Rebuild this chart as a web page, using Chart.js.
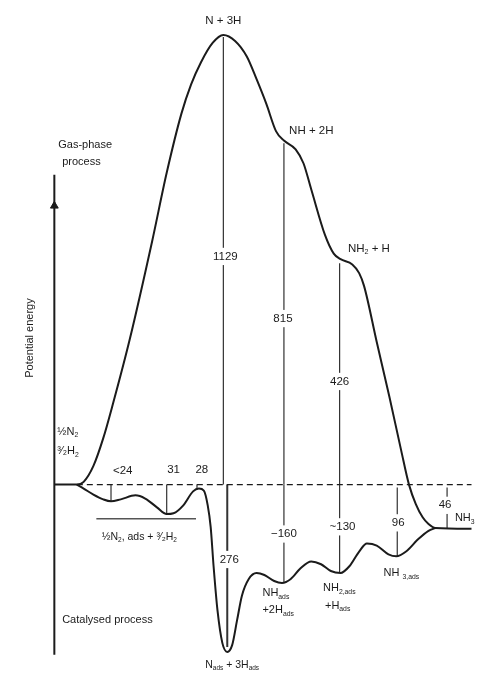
<!DOCTYPE html>
<html>
<head>
<meta charset="utf-8">
<script src="https://cdn.jsdelivr.net/npm/chart.js@4.4.0/dist/chart.umd.min.js"></script>
<style>
  html, body { margin: 0; padding: 0; background: #fff; }
  #wrap { width: 477px; height: 679px; }
</style>
</head>
<body>
<div id="wrap"><canvas id="energyChart" width="477" height="679"></canvas></div>
<script>
// 反応座標（任意単位）とポテンシャルエネルギー（kJ/mol, 模式図）
const gasX = [50, 73, 80, 90, 100, 110, 127, 150, 165, 180, 190, 200, 212, 223, 235, 247, 257, 267, 277, 285, 297, 305, 313, 327, 336, 343, 355, 362, 367, 380, 393, 405, 413, 420, 427, 433, 440, 477];
const gasY = [0, 0, 7, 47, 116, 203, 363, 610, 783, 931, 1005, 1060, 1109, 1129, 1114, 1075, 1018, 956, 887, 864, 842, 807, 741, 627, 580, 566, 553, 531, 499, 358, 220, 86, 0, -49, -82, -99, -109, -111];

const catX = [73, 80, 90, 100, 108, 118, 133, 143, 155, 165, 172, 182, 192, 198, 203, 207, 210, 213, 217, 222, 227, 232, 237, 242, 249, 257, 265, 275, 283, 292, 302, 313, 323, 333, 343, 352, 362, 370, 380, 392, 400, 410, 422, 433, 440];
const catY = [0, -10, -25, -37, -42, -37, -27, -35, -57, -74, -72, -52, -17, -10, -15, -52, -106, -205, -316, -398, -420, -403, -341, -279, -237, -222, -227, -242, -247, -237, -210, -193, -200, -217, -222, -205, -168, -148, -153, -175, -180, -168, -138, -116, -109];

// 縦の差分線（x, 上端, 下端）
const dropX = [223, 227, 285, 285, 342, 342, 401, 452, 108, 165, 196];
const dropTop = [1124, 0, 857, 0, 556, 0, -7, -7, 0, 0, 0];
const dropBottom = [0, -408, 0, -247, 0, -222, -180, -111, -42, -74, -10];

// ラベル（テキスト, x, y）
const labels = [
  ['N + 3H', 223, 1164],
  ['NH + 2H', 313, 889],
  ['NH_{2} + H', 372, 593],
  ['1129', 225, 573],
  ['815', 284, 417],
  ['426', 342, 259],
  ['<24', 120, 35],
  ['31', 172, 37],
  ['28', 201, 37],
  ['½N_{2}, ads + ³⁄₂H_{2}', 137, -131],
  ['276', 229, -188],
  ['\u2212160', 285, -124],
  ['~130', 345, -106],
  ['96', 402, -96],
  ['46', 450, -52],
  ['N_{ads} + 3H_{ads}', 232, -452]
];
const leftLabels = [
  ['Gas-phase', 54, 852],
  ['process', 58, 810],
  ['½N_{2}', 53, 133],
  ['³⁄₂H_{2}', 53, 84],
  ['NH_{3}', 460, -84],
  ['NH_{ads}', 263, -272],
  ['+2H_{ads}', 263, -316],
  ['NH_{2,ads}', 325, -259],
  ['+H_{ads}', 327, -304],
  ['NH _{3,ads}', 387, -222],
  ['Catalysed process', 58, -341]
];
const boxedLabels = ['1129', '815', '426', '276', '\u2212160', '~130', '96', '46'];

const ink = '#1b1b1b';

function drawRich(ctx, str, x, y, align, size, box) {
  const parts = str.split(/(_\{[^}]*\})/).filter(Boolean).map(p =>
    p.startsWith('_{') ? { t: p.slice(2, -1), sub: true } : { t: p, sub: false });
  const font = s => s + 'px "Liberation Sans", Arial, sans-serif';
  let w = 0;
  parts.forEach(p => {
    ctx.font = font(p.sub ? size * 0.62 : size);
    p.w = ctx.measureText(p.t).width;
    w += p.w;
  });
  let sx = align === 'left' ? x : x - w / 2;
  if (box) {
    ctx.fillStyle = '#fff';
    ctx.fillRect(sx - 2, y - size * 0.75, w + 4, size * 1.5);
  }
  ctx.fillStyle = ink;
  ctx.textBaseline = 'middle';
  ctx.textAlign = 'left';
  parts.forEach(p => {
    ctx.font = font(p.sub ? size * 0.62 : size);
    ctx.fillText(p.t, sx, p.sub ? y + size * 0.35 : y);
    sx += p.w;
  });
}

const textPlugin = {
  id: 'textPlugin',
  afterDatasetsDraw(chart) {
    const ctx = chart.ctx;
    const xs = chart.scales.x, ys = chart.scales.y;
    ctx.save();
    labels.forEach(([t, x, y]) => {
      drawRich(ctx, t, xs.getPixelForValue(x), ys.getPixelForValue(y), 'center',
        t.length > 10 ? 10.5 : 11.5, boxedLabels.includes(t));
    });
    leftLabels.forEach(([t, x, y]) => {
      drawRich(ctx, t, xs.getPixelForValue(x), ys.getPixelForValue(y), 'left', 11, false);
    });
    // 縦軸ラベル
    ctx.translate(30, ys.getPixelForValue(368));
    ctx.rotate(-Math.PI / 2);
    ctx.font = '11px "Liberation Sans", Arial, sans-serif';
    ctx.fillStyle = ink;
    ctx.textAlign = 'center';
    ctx.textBaseline = 'middle';
    ctx.fillText('Potential energy', 0, 0);
    ctx.restore();
  }
};

const toPts = (xs, ys) => xs.map((x, i) => ({ x: x, y: ys[i] }));

const datasets = [
  { data: toPts(gasX, gasY), borderColor: ink, borderWidth: 2, cubicInterpolationMode: 'monotone' },
  { data: toPts(catX, catY), borderColor: ink, borderWidth: 2, cubicInterpolationMode: 'monotone' },
  // 基準線（破線）
  { data: [{ x: 73, y: 0 }, { x: 477, y: 0 }], borderColor: ink, borderWidth: 1.3, borderDash: [6, 4] },
  // 縦軸
  { data: [{ x: 50, y: 778 }, { x: 50, y: -427 }], borderColor: ink, borderWidth: 2 },
  { data: [{ x: 50, y: 700 }], pointStyle: 'triangle', pointRadius: 4.5, pointBackgroundColor: ink, pointBorderColor: ink, showLine: false },
  // ½N2,ads の下線
  { data: [{ x: 93, y: -86 }, { x: 195, y: -86 }], borderColor: '#555', borderWidth: 1.5 }
];
dropX.forEach((x, i) => {
  datasets.push({
    data: [{ x: x, y: dropTop[i] }, { x: x, y: dropBottom[i] }],
    borderColor: '#333', borderWidth: i === 1 ? 2 : 1.2
  });
});

new Chart(document.getElementById('energyChart').getContext('2d'), {
  type: 'line',
  data: { datasets: datasets },
  options: {
    responsive: false,
    devicePixelRatio: 1,
    animation: false,
    layout: { padding: 0 },
    elements: { point: { radius: 0 }, line: { fill: false } },
    datasets: { line: { clip: false } },
    scales: {
      x: { type: 'linear', min: 0, max: 477, display: false },
      y: { type: 'linear', min: -474.3, max: 1203.1, display: false }
    },
    plugins: { legend: { display: false }, tooltip: { enabled: false } }
  },
  plugins: [textPlugin]
});
</script>
</body>
</html>
